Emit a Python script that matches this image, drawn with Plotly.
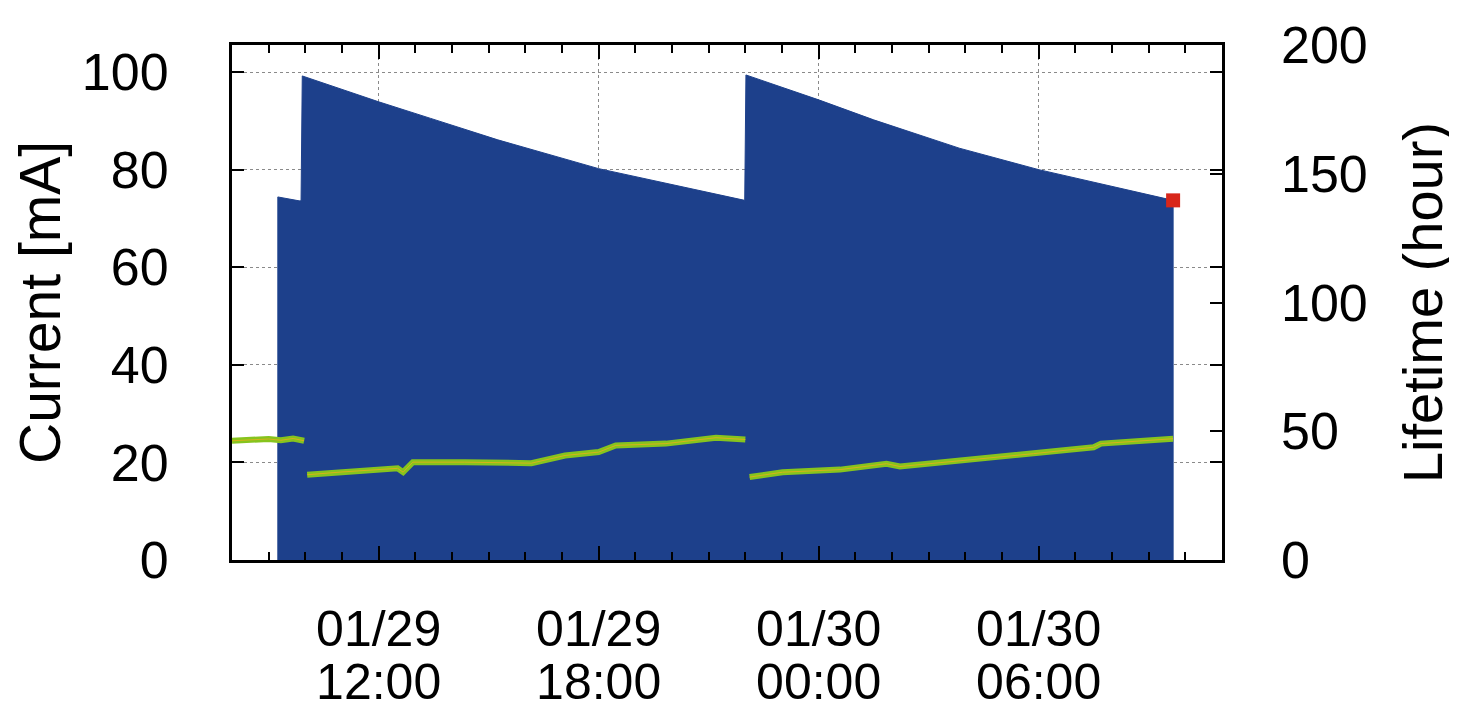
import plotly.graph_objects as go

# ---- Data ----
current_time = [
    "2016-01-29 09:15", "2016-01-29 09:15", "2016-01-29 09:50", "2016-01-29 09:53",
    "2016-01-29 09:55", "2016-01-29 12:00", "2016-01-29 13:25", "2016-01-29 15:15",
    "2016-01-29 18:00", "2016-01-29 20:00", "2016-01-29 21:59", "2016-01-29 22:01",
    "2016-01-30 00:00", "2016-01-30 01:30", "2016-01-30 03:50", "2016-01-30 06:00",
    "2016-01-30 09:20", "2016-01-30 09:40", "2016-01-30 09:40",
]
current_mA = [
    0, 74.4, 73.6, 73.6,
    99.2, 93.9, 90.5, 86.1,
    80.2, 77.0, 73.7, 99.4,
    94.3, 90.2, 84.4, 80.0,
    74.4, 73.7, 0,
]

lifetime_time = [
    "2016-01-29 08:00", "2016-01-29 08:30", "2016-01-29 09:00", "2016-01-29 09:20",
    "2016-01-29 09:40", "2016-01-29 09:58", None,
    "2016-01-29 10:03", "2016-01-29 11:00", "2016-01-29 12:31", "2016-01-29 12:40",
    "2016-01-29 12:56", "2016-01-29 14:21", "2016-01-29 16:10", "2016-01-29 17:05",
    "2016-01-29 18:00", "2016-01-29 18:28", "2016-01-29 19:50", "2016-01-29 21:12",
    "2016-01-29 22:00", None,
    "2016-01-29 22:07", "2016-01-29 23:01", "2016-01-30 00:35", "2016-01-30 01:51",
    "2016-01-30 02:13", "2016-01-30 04:03", "2016-01-30 05:52", "2016-01-30 07:30",
    "2016-01-30 07:42", "2016-01-30 09:40",
]
lifetime_h = [
    46.3, 46.6, 47.0, 46.5,
    47.2, 46.3, None,
    33.1, 34.2, 35.6, 34.1,
    38.0, 38.0, 37.6, 40.6,
    41.9, 44.5, 45.2, 47.5,
    46.8, None,
    32.2, 34.1, 35.1, 37.4,
    36.3, 38.7, 41.3, 43.8,
    45.2, 47.1,
]

last_time = ["2016-01-30 09:40"]
last_current = [73.7]

x_tickvals = ["2016-01-29 12:00", "2016-01-29 18:00", "2016-01-30 00:00", "2016-01-30 06:00"]
x_date_text = ["01/29", "01/29", "01/30", "01/30"]
x_time_text = ["12:00", "18:00", "00:00", "06:00"]
x_range = ["2016-01-29 08:00", "2016-01-30 11:00"]

left_ticks = [0, 20, 40, 60, 80, 100]
right_ticks = [0, 50, 100, 150, 200]

FONT = "Liberation Sans, Arial, sans-serif"
BLUE = "#1d408b"

fig = go.Figure()

fig.add_trace(go.Scatter(
    x=current_time, y=current_mA, mode="lines",
    line=dict(color=BLUE, width=1), fill="tozeroy", fillcolor=BLUE,
    xaxis="x", yaxis="y", showlegend=False, hoverinfo="skip",
))
fig.add_trace(go.Scatter(
    x=lifetime_time, y=lifetime_h, mode="lines", connectgaps=False,
    line=dict(color="#86c41e", width=6), xaxis="x", yaxis="y2", showlegend=False,
))
fig.add_trace(go.Scatter(
    x=lifetime_time, y=lifetime_h, mode="lines", connectgaps=False,
    line=dict(color="#d8b21a", width=1), xaxis="x", yaxis="y2", showlegend=False,
))
fig.add_trace(go.Scatter(
    x=last_time, y=last_current, mode="markers",
    marker=dict(symbol="square", size=14, color="#d8261a", line=dict(width=0)),
    xaxis="x", yaxis="y", showlegend=False,
))
# invisible trace holding the second (time-of-day) label row
fig.add_trace(go.Scatter(
    x=x_range, y=[None, None], mode="lines", xaxis="x2", yaxis="y",
    showlegend=False, hoverinfo="skip",
))

fig.update_layout(
    width=1457, height=710,
    margin=dict(l=224, r=243, t=37, b=158),
    paper_bgcolor="white", plot_bgcolor="white",
    font=dict(family=FONT, size=52, color="black"),
    xaxis=dict(
        type="date", range=x_range,
        tickvals=x_tickvals, ticktext=x_date_text,
        ticks="inside", ticklen=14, tickwidth=2, tickcolor="black",
        minor=dict(ticks="inside", dtick=3600000, ticklen=8, tickwidth=2,
                   tickcolor="black", showgrid=False),
        showgrid=True, gridcolor="#8a8a8a", griddash="dot", gridwidth=1,
        showline=True, linecolor="black", linewidth=3, mirror="ticks",
        ticklabelstandoff=23, zeroline=False, automargin=False,
        tickfont=dict(size=50),
    ),
    xaxis2=dict(
        type="date", range=x_range, overlaying="x", anchor="y", side="bottom",
        tickvals=x_tickvals, ticktext=x_time_text,
        ticks="", showgrid=False, showline=False, zeroline=False,
        ticklabelstandoff=88, automargin=False,
        tickfont=dict(size=50),
    ),
    yaxis=dict(
        range=[0, 105.54], tickvals=left_ticks,
        ticks="inside", ticklen=12, tickwidth=2, tickcolor="black",
        showgrid=True, gridcolor="#8a8a8a", griddash="dot", gridwidth=1,
        showline=True, linecolor="black", linewidth=3, mirror="ticks",
        zeroline=False, ticklabelstandoff=50, automargin=False,
        title=dict(text="Current [mA]", standoff=6, font=dict(size=57)),
        tickfont=dict(size=52),
    ),
    yaxis2=dict(
        range=[0, 200], tickvals=right_ticks, overlaying="y", side="right",
        anchor="x", ticks="inside", ticklen=12, tickwidth=2, tickcolor="black",
        showgrid=False, zeroline=False, showline=False,
        ticklabelstandoff=58, automargin=False,
        title=dict(text="Lifetime (hour)", standoff=36, font=dict(size=56)),
        tickfont=dict(size=52),
    ),
)

fig.write_html("out.html")
